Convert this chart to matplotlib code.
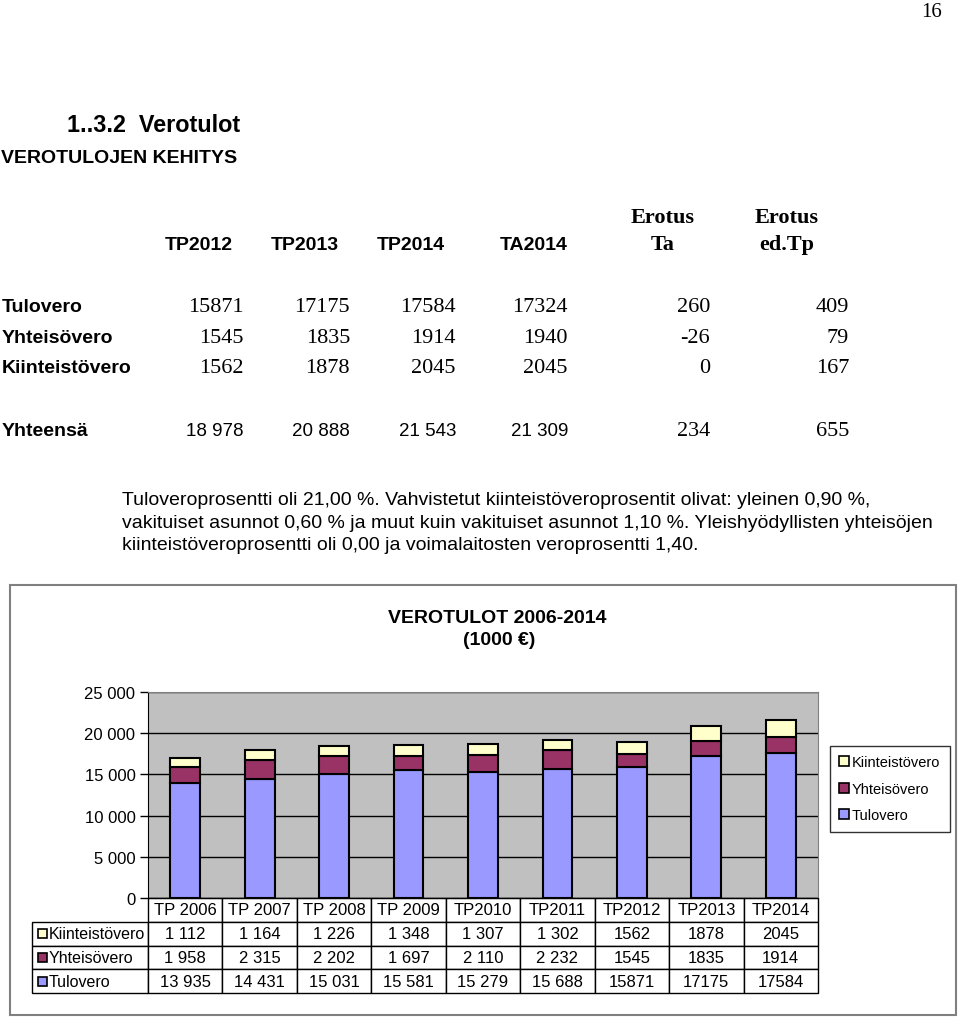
import matplotlib
matplotlib.use("Agg")
import matplotlib.pyplot as plt
from matplotlib.patches import Rectangle, Patch
import numpy as np

# ---------------- data ----------------
page_number = "16"
section_title = "1..3.2  Verotulot"
subtitle = "VEROTULOJEN KEHITYS"

top_columns = ["TP2012", "TP2013", "TP2014", "TA2014"]
diff_columns = [("Erotus", "Ta"), ("Erotus", "ed.Tp")]
top_rows = ["Tulovero", "Yhteisövero", "Kiinteistövero"]
tulovero_top = [15871, 17175, 17584, 17324, 260, 409]
yhteisovero_top = [1545, 1835, 1914, 1940, -26, 79]
kiinteistovero_top = [1562, 1878, 2045, 2045, 0, 167]
total_label = "Yhteensä"
totals = ["18 978", "20 888", "21 543", "21 309", "234", "655"]

paragraph = [
    "Tuloveroprosentti oli 21,00 %. Vahvistetut kiinteistöveroprosentit olivat: yleinen 0,90 %,",
    "vakituiset asunnot 0,60 % ja muut kuin vakituiset asunnot 1,10 %. Yleishyödyllisten yhteisöjen",
    "kiinteistöveroprosentti oli 0,00 ja voimalaitosten veroprosentti 1,40.",
]

chart_title = ["VEROTULOT 2006-2014", "(1000 €)"]
years = ["TP 2006", "TP 2007", "TP 2008", "TP 2009", "TP2010", "TP2011",
         "TP2012", "TP2013", "TP2014"]
tulovero = [13935, 14431, 15031, 15581, 15279, 15688, 15871, 17175, 17584]
yhteisovero = [1958, 2315, 2202, 1697, 2110, 2232, 1545, 1835, 1914]
kiinteistovero = [1112, 1164, 1226, 1348, 1307, 1302, 1562, 1878, 2045]
grouped = [True, True, True, True, True, True, False, False, False]
series_names = ["Kiinteistövero", "Yhteisövero", "Tulovero"]
colors = {"Tulovero": "#9999FF", "Yhteisövero": "#993366", "Kiinteistövero": "#FFFFCC"}

# ---------------- figure ----------------
plt.rcParams["font.family"] = ["Liberation Sans", "DejaVu Sans"]
W, H = 960, 1020
fig = plt.figure(figsize=(W / 100, H / 100), dpi=100)


def fx(x):
    return x / W


def fy(y):
    return 1 - y / H


SERIF = ["Liberation Serif", "DejaVu Serif"]

fig.text(fx(942), fy(17), page_number, ha="right", va="baseline", family=SERIF, fontsize=15)
fig.text(fx(67), fy(132), section_title, ha="left", va="baseline", fontsize=16.8, weight="bold")
fig.text(fx(1), fy(163), subtitle, ha="left", va="baseline", fontsize=14, weight="bold")

# header of the top table
head_cx = [199, 305, 411, 534]
for name, cx in zip(top_columns, head_cx):
    fig.text(fx(cx), fy(250), name, ha="center", va="baseline", fontsize=14, weight="bold")
for (l1, l2), cx in zip(diff_columns, [663, 787]):
    fig.text(fx(cx), fy(223), l1, ha="center", va="baseline", fontsize=16, weight="bold", family=SERIF)
    fig.text(fx(cx), fy(250), l2, ha="center", va="baseline", fontsize=16, weight="bold", family=SERIF)

num_right = [244, 350, 456, 568, 710, 849]
row_base = [312, 343, 373]
for label, vals, yb in zip(top_rows, [tulovero_top, yhteisovero_top, kiinteistovero_top], row_base):
    fig.text(fx(2), fy(yb), label, ha="left", va="baseline", fontsize=14, weight="bold")
    for v, xr in zip(vals, num_right):
        fig.text(fx(xr), fy(yb), f"{v}", ha="right", va="baseline", fontsize=16, family=SERIF)
fig.text(fx(2), fy(436), total_label, ha="left", va="baseline", fontsize=14, weight="bold")
for i, (v, xr) in enumerate(zip(totals, num_right)):
    if i < 4:
        fig.text(fx(xr), fy(436), v, ha="right", va="baseline", fontsize=13.5)
    else:
        fig.text(fx(xr), fy(436), v, ha="right", va="baseline", fontsize=16, family=SERIF)

for line, yb in zip(paragraph, [505, 528, 550]):
    fig.text(fx(122), fy(yb), line, ha="left", va="baseline", fontsize=14)

# ---------------- chart frame ----------------
fig.patches.append(Rectangle((fx(10), fy(1016)), fx(956) - fx(10), fy(586) - fy(1016),
                             transform=fig.transFigure, fill=False, edgecolor="#808080",
                             linewidth=1.5, zorder=0))
fig.text(fx(497), fy(623), chart_title[0], ha="center", va="baseline", fontsize=14, weight="bold")
fig.text(fx(499), fy(645), chart_title[1], ha="center", va="baseline", fontsize=14, weight="bold")

# ---------------- bars ----------------
L, R, T, B = 148, 818, 693, 899
ax = fig.add_axes([fx(L), fy(B), (R - L) / W, (B - T) / H])
ax.set_facecolor("#C0C0C0")
x = np.arange(len(years))
bw = 0.4
tul = np.array(tulovero)
yht = np.array(yhteisovero)
kii = np.array(kiinteistovero)
ax.bar(x, tul, bw, color=colors["Tulovero"], edgecolor="black", linewidth=1.5, zorder=3)
ax.bar(x, yht, bw, bottom=tul, color=colors["Yhteisövero"], edgecolor="black", linewidth=1.5, zorder=3)
ax.bar(x, kii, bw, bottom=tul + yht, color=colors["Kiinteistövero"], edgecolor="black", linewidth=1.5, zorder=3)
ax.set_xlim(-0.5, len(years) - 0.5)
ax.set_ylim(0, 25000)
ax.set_yticks(np.arange(0, 25001, 5000))
ax.set_yticklabels([f"{int(v):,}".replace(",", " ") for v in np.arange(0, 25001, 5000)], fontsize=12)
ax.tick_params(axis="y", length=6, width=1, pad=3, direction="out")
ax.set_xticks([])
ax.yaxis.grid(True, color="black", linewidth=1)
ax.set_axisbelow(True)
for s in ["left", "bottom"]:
    ax.spines[s].set_color("black")
for s in ["top", "right"]:
    ax.spines[s].set_color("#808080")


def fmt(v, g):
    return f"{v:,}".replace(",", " ") if g else f"{v}"


cell_text = [[""] + years]
for name, vals in zip(series_names, [kiinteistovero, yhteisovero, tulovero]):
    cell_text.append([name] + [fmt(v, g) for v, g in zip(vals, grouped)])

tL, tB = 32, 994
col_w = [116] + [(R - L) / len(years)] * len(years)
tab = ax.table(cellText=cell_text, cellLoc="center",
               bbox=[(tL - L) / (R - L), -(tB - B) / (B - T), (R - tL) / (R - L), (tB - B) / (B - T)])
tab.auto_set_font_size(False)
tab.set_fontsize(12)
for (r, c), cell in tab.get_celld().items():
    cell.set_width(col_w[c])
    cell.set_height(1.0)
    cell.set_linewidth(1.0)
    cell.set_edgecolor("black")
    cell.set_facecolor("white")
    if r == 0 and c == 0:
        cell.visible_edges = ""
    if c == 0 and r > 0:
        cell._loc = "left"
        cell.PAD = 17 / 116
        cell.get_text().set_horizontalalignment("left")
        cell.get_text().set_fontsize(11.5)

# swatches in row labels
row_centers = [934, 958, 982]
for name, yc in zip(series_names, row_centers):
    fig.patches.append(Rectangle((fx(38), fy(yc + 4.5)), 8.5 / W, 9 / H, transform=fig.transFigure,
                                 facecolor=colors[name], edgecolor="black", linewidth=1.2, zorder=5))

handles = [Patch(facecolor=colors[n], edgecolor="black", linewidth=1.2) for n in series_names]
leg = fig.legend(handles, series_names, loc="upper left", bbox_to_anchor=(fx(830), fy(747)),
                 bbox_transform=fig.transFigure, fontsize=10.5, frameon=True, fancybox=False,
                 edgecolor="black", borderaxespad=0, handlelength=0.65, handleheight=0.65,
                 handletextpad=0.2, labelspacing=0.85, borderpad=0.65)
leg.get_frame().set_linewidth(1.0)

fig.savefig("out.png", dpi=100)
